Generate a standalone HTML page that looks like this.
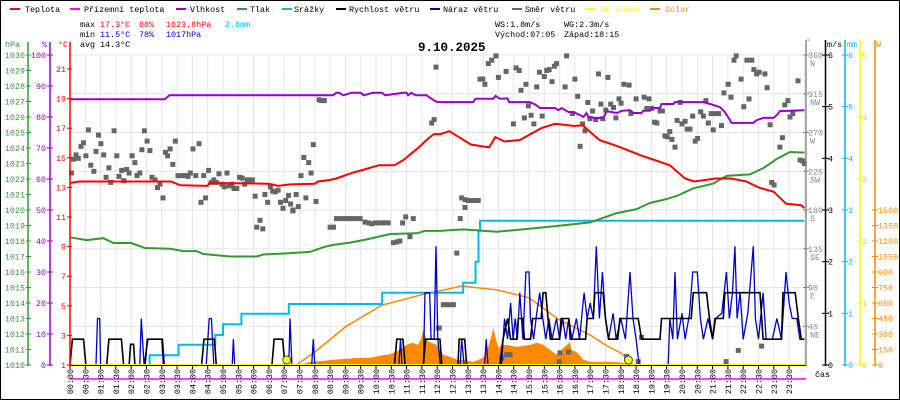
<!DOCTYPE html>
<html><head><meta charset="utf-8"><style>
html,body{margin:0;padding:0;background:#fff}
svg{display:block;font-family:"Liberation Mono",monospace}
</style></head><body>
<svg id="c" width="900" height="400" viewBox="0 0 900 400" xmlns="http://www.w3.org/2000/svg">
<rect x="0.5" y="0.5" width="899" height="399" fill="#fff" stroke="#000"/>
<g font-size="8.4">
 <g><rect x="10" y="8" width="10" height="2" fill="#f00"/><text x="25" y="12">Teplota</text></g>
 <g><rect x="70" y="8" width="10" height="2" fill="#f0f"/><text x="84" y="12">Přízemní teplota</text></g>
 <g><rect x="176" y="8" width="10" height="2" fill="#90c"/><text x="190" y="12">Vlhkost</text></g>
 <g><rect x="237" y="8" width="10" height="2" fill="#393"/><text x="250" y="12">Tlak</text></g>
 <g><rect x="282" y="8" width="10" height="2" fill="#0bf"/><text x="294" y="12">Srážky</text></g>
 <g><rect x="336" y="8" width="10" height="2" fill="#000"/><text x="349" y="12">Rychlost větru</text></g>
 <g><rect x="430" y="8" width="10" height="2" fill="#00c"/><text x="443" y="12">Náraz větru</text></g>
 <g><rect x="512" y="8" width="10" height="2" fill="#666"/><text x="525" y="12">Směr větru</text></g>
 <g><rect x="585" y="8" width="10" height="2" fill="#ff0"/><text x="600" y="12" fill="#ff0">UV index</text></g>
 <g><rect x="650" y="8" width="10" height="2" fill="#f80"/><text x="665" y="12" fill="#f80">Solar</text></g>
</g>
<g font-size="8.4">
 <text x="80" y="27">max</text><text x="100" y="27" fill="#f00">17.3°C</text><text x="139" y="27" fill="#f00">88%</text><text x="166" y="27" fill="#f00">1023.8hPa</text><text x="225" y="27" fill="#0bf">2.8mm</text>
 <text x="80" y="37">min</text><text x="100" y="37" fill="#00c">11.5°C</text><text x="139" y="37" fill="#00c">78%</text><text x="166" y="37" fill="#00c">1017hPa</text>
 <text x="80" y="47">avg</text><text x="100" y="47">14.3°C</text>
 <text x="495" y="27">WS:1.8m/s</text><text x="564" y="27">WG:2.3m/s</text>
 <text x="495" y="37">Východ:07:05</text><text x="564" y="37">Západ:18:15</text>
</g>
<text x="418" y="51" font-size="12.5" font-weight="bold">9.10.2025</text>
<g id="grid"></g>
<g id="series"></g>
<g id="axes"></g>
</svg>
<script>
const tempT=[0,0.3,3.3,3.6,4.5,4.55,6.5,6.8,7.2,8,8.1,8.5,8.7,9.25,9.6,10.1,10.6,10.9,11.1,11.4,11.7,11.9,12.1,12.4,13.1,13.7,13.9,14.2,14.7,15.4,15.85,16.5,16.75,17.3,18.0,18.6,19.1,19.6,20.1,20.4,21.1,21.6,22.1,22.5,23.0,23.4,23.9,24];
const tempV=[13.3,13.4,13.4,13.15,13.1,13.3,13.25,13.1,13.2,13.25,13.4,13.5,13.6,14.0,14.2,14.5,14.5,14.85,15.2,15.7,16.3,16.6,16.6,16.8,15.9,15.7,16.4,16.1,16.2,17.0,17.3,17.15,17.2,16.2,15.7,15.2,14.85,14.5,13.6,13.4,13.6,13.6,13.4,13.0,12.7,11.9,11.8,11.6];
const humT=[0,3.1,3.25,8.6,8.7,8.8,8.93,9.2,9.5,9.6,9.9,10.2,10.3,10.9,11.0,11.05,11.15,11.3,11.65,11.87,12.0,13.18,13.25,13.83,13.91,14.05,14.3,14.35,15.03,15.21,15.36,15.85,15.96,16.07,16.29,16.45,16.67,16.78,16.88,16.94,17.16,17.43,17.54,17.87,18.03,18.3,18.41,18.68,18.73,18.95,19.0,19.28,19.33,19.72,19.77,20.7,20.92,21.24,21.4,21.57,21.62,22.33,22.44,22.66,22.99,23.1,23.2,24];
const humV=[85.7,85.7,87.0,87.0,87.8,87.8,87.0,87.8,87.8,87.0,87.8,87.8,87.0,87.8,87.8,87.0,87.8,87.0,87.0,85.5,84.8,84.8,85.9,85.9,86.8,85.9,86.0,84.8,84.8,84.0,82.9,82.9,82.2,82.9,81.6,81.6,80.6,80.0,81.3,80.0,79.7,79.7,81.9,81.3,82.0,82.2,81.3,81.3,82.0,82.0,82.9,82.9,84.2,84.2,84.8,84.8,84.2,83.2,81.6,79.0,78.1,78.1,79.0,79.7,79.7,80.6,81.9,82.2];
const presT=[0,0.54,1.09,1.42,2.0,2.45,3.27,3.7,4.14,4.36,5.23,6.1,6.32,7.08,7.84,8.28,8.6,9.15,9.7,10.13,10.46,11.33,11.6,12.09,12.85,13.94,14.8,15.9,17.0,17.87,18.52,18.95,19.39,19.82,20.37,21.02,21.46,22.22,22.66,23.1,23.53,24];
const presV=[1018.24,1018.06,1018.18,1017.87,1017.87,1017.55,1017.5,1017.35,1017.35,1017.16,1017.0,1017.0,1017.13,1017.2,1017.3,1017.6,1017.75,1017.9,1018.1,1018.3,1018.45,1018.5,1018.65,1018.65,1018.75,1018.6,1018.75,1018.97,1019.2,1019.8,1020.06,1020.45,1020.65,1020.9,1021.4,1021.7,1022.2,1022.3,1022.7,1023.3,1023.74,1023.7];
const rainT=[0,2.6,3.55,4.75,5.0,5.6,7.15,10.2,12.85,13.25,13.35,13.4];
const rainV=[0,0.19,0.39,0.58,0.79,0.99,1.18,1.4,1.59,2.0,2.6,2.79];
const solarT=[7.5,7.84,8.28,8.6,9.48,9.8,10.13,10.46,10.78,11.0,11.2,11.38,11.49,11.55,11.66,11.77,11.98,12.2,12.42,12.64,12.85,13.18,13.51,13.67,13.78,13.83,13.89,14.0,14.11,14.27,14.6,15.03,15.25,15.47,15.69,15.9,16.12,16.34,16.39,16.56,16.78,17.0,17.76,18.08,18.41];
const solarV=[0,30,40,50,70,70,90,105,145,195,215,195,270,340,240,220,195,100,80,50,50,30,70,175,290,360,290,165,195,195,175,195,215,195,145,100,165,220,145,125,50,30,30,20,0];
const clearT=[7.4,8,9,10.2,11.5,12.8,14,15,16,17,17.5,18,18.3,18.4];
const clearV=[0,125,370,580,680,765,725,650,435,290,195,115,40,0];
const windT=[0,0.08,0.44,0.52,1.2,1.27,1.68,1.75,1.93,1.98,2.08,2.12,2.45,2.53,3.02,3.08,4.3,4.38,4.72,4.78,6.6,6.67,6.95,7.02,10.6,10.68,10.88,10.95,11.55,11.62,12.09,12.15,12.68,12.72,12.9,12.96,14.05,14.15,14.3,14.4,14.6,14.65,14.8,14.85,15.05,15.12,15.4,15.46,15.55,15.62,15.7,16.0,16.05,16.3,16.35,16.85,16.9,17.1,17.15,17.42,17.5,17.6,17.9,17.97,18.57,18.68,19.28,19.33,20.3,20.37,20.8,20.9,21.0,21.08,21.35,21.4,22.55,22.65,23.25,23.3,23.7,23.8,23.9,24];
const windV=[0,0.5,0.5,0,0,0.5,0.5,0,0,0.4,0.4,0,0,0.5,0.5,0,0,0.5,0.5,0,0,0.5,0.5,0,0,0.5,0.5,0,0,0.5,0.5,0,0,0.5,0.5,0,0,0.5,0.9,0.5,0.5,0.9,0.9,0.5,0.5,0.9,0.9,1.4,1.4,0.9,0.5,0.5,0.9,0.9,0.5,0.5,0.9,0.9,1.4,1.4,0.9,0.5,0.5,0.9,0.9,0.5,0.5,0.9,0.9,1.4,1.4,0.9,0.5,0.9,0.9,1.4,1.4,0.5,0.5,1.4,1.4,0.9,0.5,0.5];
const gustT=[0,0.85,0.9,0.97,1.0,2.28,2.33,2.38,2.42,2.55,3.0,3.05,4.45,4.55,4.62,4.7,5.3,5.34,5.38,7.15,7.19,7.25,7.9,7.95,8.0,10.75,10.8,10.85,11.55,11.6,11.75,11.8,11.9,11.96,12.02,12.1,12.75,12.8,12.88,13.55,13.6,13.66,14.1,14.2,14.3,14.4,14.48,14.55,14.62,14.7,14.8,14.9,15.0,15.05,15.15,15.25,15.35,15.45,15.55,15.65,15.75,15.9,16.0,16.1,16.2,16.3,16.4,16.55,16.65,16.8,16.9,17.0,17.1,17.2,17.3,17.4,17.5,17.6,17.75,17.85,18.0,18.15,18.3,18.4,18.5,18.6,19.55,19.6,19.7,19.77,19.85,20.0,20.1,20.25,20.35,20.5,20.6,20.7,20.85,21.0,21.1,21.3,21.45,21.55,21.65,21.73,21.8,21.9,22.0,22.15,22.33,22.4,22.5,22.65,22.75,22.95,23.1,23.25,23.4,23.5,23.6,23.75,23.85,24];
const gustV=[0,0,0.9,0.9,0,0,0.9,0.4,0,0.5,0.5,0,0,0.9,0.9,0,0,0.5,0,0,0.9,0,0,0.5,0,0,0.5,0,0,1.4,1.4,0.5,0.5,2.3,0.5,0,0,0.5,0,0,0.5,0,0,0.9,0.5,1.2,0.5,0.9,0.5,1.4,0.5,1.8,1.8,0.9,0.5,1.0,1.4,0.9,0.5,0.9,0.5,0.9,0.5,0.9,0.5,0.9,0.5,0.9,0.5,1.4,0.9,1.2,0.9,2.3,0.9,1.8,0.9,0.5,1.0,0.5,0.9,0.5,1.8,0.9,0.5,0,0,0.9,0.5,1.8,0.5,1.0,0.5,1.0,1.8,1.8,0.9,0.5,0.9,0.5,0.9,1.0,1.8,0.9,1.4,2.3,0.9,1.4,0.5,1.0,2.3,0.9,0.5,1.4,0.5,0.5,0.9,0.5,1.8,1.2,0.9,0.9,0.5,0.5];
const dirT=[0.05,0.11,0.20,0.27,0.36,0.44,0.52,0.60,0.68,0.78,0.85,0.93,1.01,1.10,1.18,1.27,1.33,1.44,1.53,1.60,1.69,1.76,1.85,1.93,2.03,2.12,2.19,2.28,2.35,2.43,2.52,2.61,2.68,2.78,2.86,2.94,3.04,3.12,3.19,3.27,3.36,3.44,3.53,3.62,3.70,3.78,3.86,3.93,4.02,4.11,4.22,4.28,4.37,4.43,4.53,4.62,4.70,4.78,4.87,4.96,5.04,5.13,5.20,5.29,5.36,5.45,5.54,5.63,5.71,5.80,5.88,5.96,6.05,6.37,6.46,6.55,6.62,6.71,6.80,6.88,6.96,7.05,7.14,7.21,7.29,7.39,7.46,7.55,7.64,7.71,7.80,7.88,7.95,8.04,8.14,8.22,8.31,6.10,6.21,6.30,7.28,8.50,8.61,8.71,8.82,8.93,9.04,9.15,9.26,9.37,9.48,9.64,9.75,9.86,9.97,10.08,10.19,10.29,10.40,10.57,10.68,10.78,10.87,10.97,11.11,11.22,12.04,11.82,11.90,11.96,12.80,12.91,13.02,13.13,13.24,13.34,12.91,13.40,13.49,13.56,13.67,13.78,13.92,14.00,14.25,14.49,14.58,14.68,14.74,14.85,14.90,14.98,15.07,15.16,15.25,15.34,15.43,15.50,15.58,15.66,15.75,15.83,15.90,16.18,16.23,16.42,16.50,16.59,16.67,16.75,16.83,16.92,16.99,17.08,17.18,17.27,17.35,17.41,17.51,17.58,17.67,17.76,17.84,17.94,18.01,18.10,18.27,18.33,18.50,18.76,18.85,18.92,19.01,19.10,19.18,19.28,19.36,19.44,19.52,19.60,19.67,19.77,19.84,19.94,20.00,20.10,20.17,20.26,20.35,20.43,20.51,20.61,20.70,20.78,20.86,20.95,21.02,21.10,21.20,21.29,21.37,21.51,21.60,21.70,21.77,21.93,22.02,22.12,22.19,22.28,22.35,22.44,22.52,22.71,22.78,22.88,22.93,23.01,23.20,23.28,23.36,23.46,23.53,23.62,23.79,23.86,23.94,24.0,12.75,12.64,12.20,12.31,12.42,12.53,12.07,14.11,14.27,14.38,16.01,15.99,16.29,18.68,18.57,18.19,21.44,21.84,22.60];
const dirV=[223,239,244,240,254,258,243,273,232,225,248,267,257,244,218,229,212,272,243,219,226,214,227,223,243,235,220,223,250,272,260,249,218,215,206,210,194,247,243,251,233,260,220,220,220,220,219,223,251,220,257,189,220,194,226,212,215,212,222,210,207,223,208,210,205,205,218,217,210,215,215,215,196,198,189,207,202,201,203,189,182,191,197,187,180,198,184,220,241,194,235,223,256,190,308,307,307,160,168,158,179,160,160,170,170,170,170,170,170,170,170,166,165,164,165,165,165,165,165,142,143,144,165,172,149,170,43,281,285,346,194,192,191,191,191,191,183,332,332,326,350,354,359,334,341,280,345,342,319,287,326,301,290,280,323,340,289,335,342,343,329,347,350,323,359,292,332,312,254,280,272,305,286,295,285,338,303,286,296,334,303,299,287,309,304,326,325,292,309,311,298,309,298,282,281,295,295,266,265,271,262,253,284,305,280,283,274,274,289,260,263,294,289,307,281,292,273,292,292,278,316,326,311,354,359,332,300,354,309,354,343,338,340,338,322,279,212,209,253,264,302,307,288,292,330,238,237,234,170,130,70,70,70,70,43,8,12,12,14,4,15,32,4,10,4,17,22];
const sunEvents=[7.083,18.25];
const hourLabels=["00:00","00:30","01:00","01:30","02:00","02:30","03:00","03:30","04:00","04:30","05:00","05:30","06:00","06:30","07:00","07:30","08:00","08:30","09:00","09:30","10:00","10:30","11:00","11:30","12:00","12:30","13:00","13:30","14:00","14:30","15:00","15:30","16:00","16:30","17:00","17:30","18:00","18:30","19:00","19:30","20:00","20:30","21:00","21:30","22:00","22:30","23:00","23:30"];
const hpaTicks=[1010,1011,1012,1013,1014,1015,1016,1017,1018,1019,1020,1021,1022,1023,1024,1025,1026,1027,1028,1029,1030];
const pctTicks=[0,10,20,30,40,50,60,70,80,90,100];
const tempTicks=[1,3,5,7,9,11,13,15,17,19,21];
const dirTicks=[45,90,135,180,225,270,315,360];
const dirNames=["NE","E","SE","S","SW","W","NW","N"];
const msTicks=[0,1,2,3,4,5,6];
const uvTicks=[0,1,2,3,4,5];
const wTicks=[0,150,300,450,600,750,900,1050,1200,1350,1500];

const NS="http://www.w3.org/2000/svg";
const X=h=>70+h*30.6;
const YT=c=>365-(c-1)*14.8;
const YP=p=>365-(p-1010)*15.5;
const YH=p=>365-p*3.1;
const YS=v=>365-v*51.667;
const YD=d=>365-d*0.8611;
const YW=w=>365-w*0.10333;
const YU=u=>365-u*62;
function mk(tag,attrs,parent){const e=document.createElementNS(NS,tag);for(const k in attrs)e.setAttribute(k,attrs[k]);parent.appendChild(e);return e;}
const grid=document.getElementById('grid'),ser=document.getElementById('series'),ax=document.getElementById('axes');

// grid
for(let i=0;i<=48;i++){const l=mk('line',{x1:X(i/2),x2:X(i/2),y1:55,y2:365,stroke:'#e6e6e6'},grid);

}
dirTicks.forEach(d=>{const l=mk('line',{x1:70,x2:806,y1:YD(d),y2:YD(d),stroke:'#e6e6e6'},grid);

});

function poly(ts,vs,sx,sy,attrs,name){const pts=ts.map((t,i)=>sx(t).toFixed(1)+','+sy(vs[i]).toFixed(1)).join(' ');
const p=mk('polyline',Object.assign({points:pts,fill:'none'},attrs),ser);

return p;}

// solar fill
{let d='M'+X(solarT[0])+','+YW(0);solarT.forEach((t,i)=>{d+=' L'+X(t).toFixed(1)+','+YW(solarV[i]).toFixed(1);});d+=' L'+X(solarT[solarT.length-1])+','+YW(0)+'Z';
const p=mk('path',{d:d,fill:'#ff8800'},ser);

}
poly(clearT,clearV,X,YW,{stroke:'#ff8800','stroke-width':1.5},'solar-clear-sky-line');
// rain step
{let pts=[];rainT.forEach((t,i)=>{if(i>0)pts.push(X(t).toFixed(1)+','+YS(rainV[i-1]).toFixed(1));pts.push(X(t).toFixed(1)+','+YS(rainV[i]).toFixed(1));});pts.push(X(24)+','+YS(rainV[rainV.length-1]).toFixed(1));
const p=mk('polyline',{points:pts.join(' '),fill:'none',stroke:'#00bbee','stroke-width':2},ser);

}
poly(presT,presV,X,YP,{stroke:'#339933','stroke-width':2},'pressure-line');
// wind dir points
dirT.forEach((t,i)=>{const r=mk('rect',{x:(X(t)-2.5).toFixed(1),y:(YD(dirV[i])-2.5).toFixed(1),width:5,height:5,fill:'#666'},ser);

});
poly(tempT,tempV,X,YT,{stroke:'#ff0000','stroke-width':2},'temperature-line');
poly(humT,humV,X,YH,{stroke:'#9900cc','stroke-width':2},'humidity-line');
poly(gustT,gustV,X,YS,{stroke:'#0000cc','stroke-width':1.3},'wind-gust-line');
poly(windT,windV,X,YS,{stroke:'#000','stroke-width':1.6},'wind-speed-line');
{const l=mk('line',{x1:70,x2:806,y1:YU(0),y2:YU(0),stroke:'#ffff00','stroke-width':2},ser);

}
sunEvents.forEach(t=>{const c=mk('circle',{cx:X(t),cy:360,r:4,fill:'#ffff00',stroke:'#444','stroke-width':1},ser);

});
{const l=mk('line',{x1:70,x2:806,y1:379,y2:379,stroke:'#ff00ff','stroke-width':1.5},ser);

}

// axes
function axisLine(x,y1,y2,col,name){const l=mk('line',{x1:x,x2:x,y1:y1,y2:y2,stroke:col,'stroke-width':1.5},ax);

}
function txt(x,y,s,col,anchor,name,size){const t=mk('text',{x:x,y:y,fill:col,'font-size':size||8.4,'text-anchor':anchor||'start'},ax);t.textContent=s;

return t;}
axisLine(28,42,366,'#339933','hpa-axis');
axisLine(50,42,366,'#9900cc','humidity-axis');
axisLine(70,42,366,'#ff0000','temperature-axis');
axisLine(806,40,366,'#888','wind-direction-axis');
axisLine(825.5,40,366,'#000','wind-speed-axis');
axisLine(845,40,366,'#00bbee','rain-axis');
axisLine(860,40,366,'#ffff00','uv-axis');
axisLine(875,40,366,'#ff8800','solar-axis');
axisLine(70,365,365,'#000','x-axis');
{const l=mk('line',{x1:70,x2:806,y1:365.5,y2:365.5,stroke:'#000'},ax);

}
txt(5,47,'hPa','#339933','start','hpa-axis-title');
txt(42,47,'%','#9900cc','start','humidity-axis-title');
txt(58,47,'°C','#ff0000','start','temperature-axis-title');
txt(806,44,'°','#888','start','wind-direction-axis-title');
txt(827,47,'m/s','#000','start','wind-speed-axis-title');
txt(847,47,'mm','#00bbee','start','rain-axis-title');
txt(876,47,'W','#ff8800','start','solar-axis-title');
hpaTicks.forEach(v=>{const y=YP(v);mk('line',{x1:26,x2:31,y1:y,y2:y,stroke:'#339933'},ax);txt(25,y+3,String(v),'#339933','end','hpa-tick-label');});
pctTicks.forEach(v=>{const y=YH(v);mk('line',{x1:47,x2:53,y1:y,y2:y,stroke:'#9900cc'},ax);txt(46,y+3,String(v),'#9900cc','end','humidity-tick-label');});
tempTicks.forEach(v=>{const y=YT(v);mk('line',{x1:67,x2:72,y1:y,y2:y,stroke:'#ff0000'},ax);txt(66,y+3,String(v),'#ff0000','end','temperature-tick-label');});
dirTicks.forEach((v,i)=>{const y=YD(v);mk('line',{x1:803,x2:809,y1:y,y2:y,stroke:'#888'},ax);txt(808,y+3,String(v),'#888','start','wind-direction-tick-label');txt(810,y+11,dirNames[i],'#888','start','wind-direction-name');});
msTicks.forEach(v=>{const y=YS(v);mk('line',{x1:822,x2:829,y1:y,y2:y,stroke:'#000'},ax);txt(828,y+3,String(v),'#000','start','wind-speed-tick-label');});
msTicks.forEach(v=>{const y=YS(v);mk('line',{x1:842,x2:848,y1:y,y2:y,stroke:'#00bbee'},ax);txt(848,y+3,String(v),'#00bbee','start','rain-tick-label');});
uvTicks.forEach(v=>{const y=YU(v);mk('line',{x1:857,x2:863,y1:y,y2:y,stroke:'#ffff00'},ax);txt(862,y+3,String(v),'#dddd00','start','uv-tick-label');});
wTicks.forEach(v=>{const y=YW(v);mk('line',{x1:872,x2:878,y1:y,y2:y,stroke:'#ff8800'},ax);txt(878,y+3,String(v),'#ff8800','start','solar-tick-label');});
hourLabels.forEach((s,i)=>{const x=X(i/2);mk('line',{x1:x,x2:x,y1:365,y2:369,stroke:'#000'},ax);
const t=txt(0,0,s,'#000','end','time-tick-label');t.setAttribute('transform','translate('+(x+3)+',369) rotate(-90)');});
txt(815,377,'čas','#000','start','x-axis-title');
</script>
</body></html>
